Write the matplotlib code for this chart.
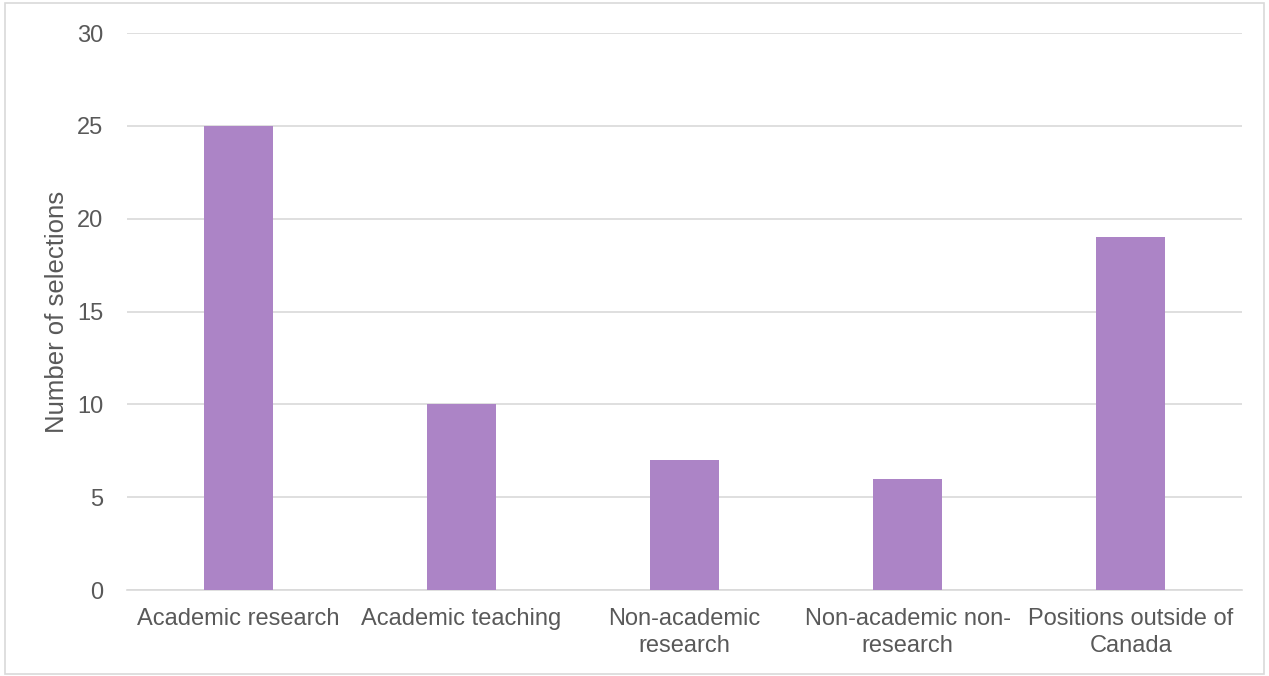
import matplotlib.pyplot as plt
from matplotlib.patches import Rectangle

categories = [
    "Academic research",
    "Academic teaching",
    "Non-academic\nresearch",
    "Non-academic non-\nresearch",
    "Positions outside of\nCanada",
]
selections = [25, 10, 7, 6, 19]

plt.rcParams["font.family"] = ["Liberation Sans", "DejaVu Sans"]
text_color = "#595959"

fig = plt.figure(figsize=(12.69, 6.76), dpi=100)
ax = fig.add_axes([0.100, 0.127, 0.879, 0.824])

x = range(len(categories))
ax.bar(x, selections, width=0.31, color="#AC84C6", zorder=3)

ax.set_xlim(-0.5, len(categories) - 0.5)
ax.set_ylim(0, 30)
ax.set_yticks(range(0, 31, 5))
ax.set_xticks(list(x))
ax.set_xticklabels(categories, fontsize=17, color=text_color, linespacing=1.3)
ax.tick_params(axis="y", labelsize=17, labelcolor=text_color, length=0, pad=17)
ax.tick_params(axis="x", length=0, pad=13)

ax.grid(axis="y", color="#D9D9D9", linewidth=1.2, zorder=0)
for side in ["top", "right", "left"]:
    ax.spines[side].set_visible(False)
ax.spines["bottom"].set_color("#D9D9D9")
ax.spines["bottom"].set_linewidth(1.2)

ax.set_ylabel("Number of selections", fontsize=18.5, color=text_color, labelpad=6)

# light frame around the whole chart
fig.patches.append(Rectangle((0.004, 0.003), 0.992, 0.992, transform=fig.transFigure,
                             fill=False, edgecolor="#D9D9D9", linewidth=1.2))

plt.savefig("out.png", dpi=100)
